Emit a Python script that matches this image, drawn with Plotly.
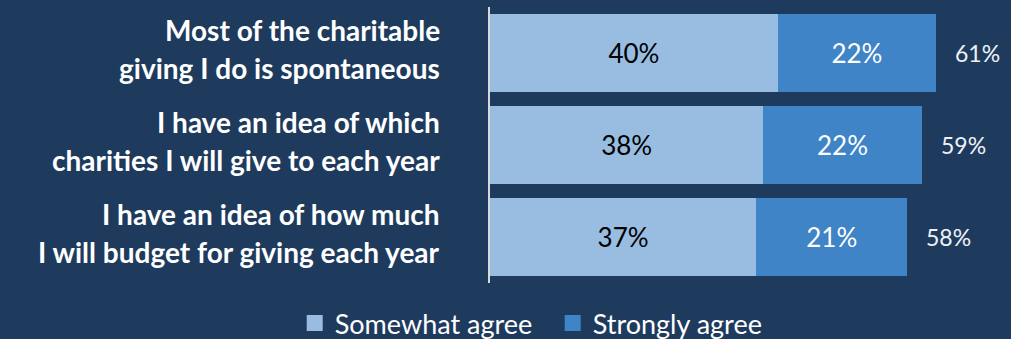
import plotly.graph_objects as go

# Survey statements (two display lines each) and shares agreeing (%)
statement_lines = [
    ("Most of the charitable", "giving I do is spontaneous"),
    ("I have an idea of which", "charities I will give to each year"),
    ("I have an idea of how much", "I will budget for giving each year"),
]
statements = [f"{a} {b}" for a, b in statement_lines]
somewhat_agree = [40, 38, 37]
strongly_agree = [22, 22, 21]
total_agree = [61, 59, 58]
series_names = ["Somewhat agree", "Strongly agree"]

BG = "#1e3b5e"
LIGHT = "#98bde1"
DARK = "#3e84c6"
FONT = "Lato"

fig = go.Figure()
for vals, name, color, tcolor in [
    (somewhat_agree, series_names[0], LIGHT, "#000000"),
    (strongly_agree, series_names[1], DARK, "#ffffff"),
]:
    fig.add_trace(go.Bar(
        y=statements, x=vals, orientation="h", name=name,
        marker=dict(color=color, line=dict(width=0)),
        text=[f"{v}%" for v in vals], textposition="inside",
        insidetextanchor="middle", textangle=0,
        textfont=dict(family=FONT, size=26, color=tcolor),
        hoverinfo="skip", showlegend=False,
    ))

# Legend entries drawn as square markers
for name, color in zip(series_names, [LIGHT, DARK]):
    fig.add_trace(go.Scatter(
        x=[None], y=[statements[0]], mode="markers", name=name,
        marker=dict(symbol="square", size=16, color=color),
        showlegend=True, hoverinfo="skip",
    ))

annotations = []
# Net agreement shown to the right of each stacked bar
for s, a, b, t in zip(statements, somewhat_agree, strongly_agree, total_agree):
    annotations.append(dict(
        x=a + b, y=s, xref="x", yref="y", text=f"{t}%", showarrow=False,
        xanchor="left", xshift=17,
        font=dict(family=FONT, size=23, color="#eef2f7"),
    ))
# Statement labels, right-aligned to the left of the axis line
for s, (line1, line2) in zip(statements, statement_lines):
    for txt, shift in [(line1, 23), (line2, -15)]:
        annotations.append(dict(
            x=-48 / 518, y=s, xref="paper", yref="y", text=txt,
            showarrow=False, xanchor="right", align="right", yshift=shift,
            font=dict(family=FONT, size=28, color="#ffffff", weight="bold"),
        ))

fig.update_layout(
    width=1011, height=339,
    paper_bgcolor=BG, plot_bgcolor=BG,
    barmode="stack", bargap=0.16,
    margin=dict(l=490, r=3, t=7, b=56, autoexpand=False),
    showlegend=True,
    legend=dict(
        orientation="h", x=-0.377, xanchor="left", y=-0.058, yanchor="top",
        font=dict(family=FONT, size=27, color="#ffffff"),
        bgcolor="rgba(0,0,0,0)", itemsizing="trace", traceorder="normal",
        itemwidth=30, entrywidth=213, entrywidthmode="pixels",
    ),
    xaxis=dict(range=[0, 72], visible=False, fixedrange=True),
    yaxis=dict(
        range=[2.5, -0.5], showticklabels=False, showgrid=False,
        showline=True, linecolor="#d9d9d9", linewidth=2, ticks="",
        zeroline=False, fixedrange=True,
    ),
    annotations=annotations,
)

fig.write_html("out.html")
